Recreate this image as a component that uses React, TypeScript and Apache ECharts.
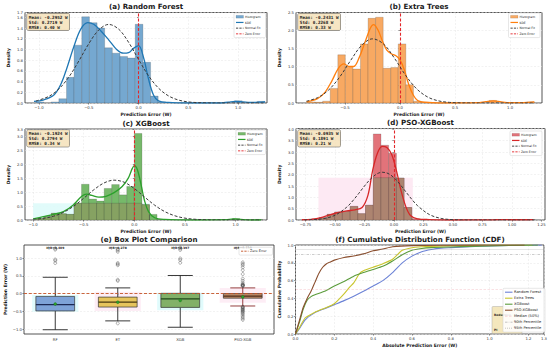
import React, { useEffect, useRef } from 'react';
import * as echarts from 'echarts';

// ---------------- (a) Random Forest ----------------
const rfBinEdges = [-1.030,-0.953,-0.877,-0.800,-0.723,-0.647,-0.570,-0.493,-0.416,-0.340,-0.263,-0.186,-0.110,-0.033,0.044,0.121,0.197,0.274,0.351,0.427,0.504,0.581,0.657,0.734,0.811,0.888,0.964,1.041,1.118,1.194,1.271];
const rfDensity = [0.02,0,0.02,0.08,0.48,1.08,1.61,1.50,1.40,1.03,0.93,0.87,0.84,1.47,0.76,0.13,0.02,0,0,0,0,0,0,0,0,0,0.04,0,0,0.03];
const rfKde = [[-1.05,0.03],[-0.95,0.06],[-0.85,0.15],[-0.78,0.35],[-0.72,0.65],[-0.65,1.05],[-0.58,1.38],[-0.51,1.50],[-0.45,1.47],[-0.38,1.35],[-0.30,1.18],[-0.22,1.00],[-0.15,0.93],[-0.10,0.94],[-0.05,1.02],[0.00,1.07],[0.05,0.85],[0.10,0.45],[0.15,0.15],[0.20,0.04],[0.30,0.01],[0.50,0.00],[0.80,0.00],[0.90,0.015],[0.97,0.03],[1.05,0.02],[1.12,0.01],[1.20,0.015],[1.27,0.02]];
const rfNormal = [[-1.03,0.038],[-0.9,0.124],[-0.8,0.262],[-0.7,0.484],[-0.6,0.783],[-0.5,1.105],[-0.4,1.362],[-0.3,1.467],[-0.2,1.380],[-0.1,1.134],[0.0,0.814],[0.1,0.510],[0.2,0.279],[0.3,0.134],[0.4,0.056],[0.5,0.020],[0.6,0.007],[0.7,0.002],[0.8,0.0],[1.27,0.0]];
const rfStats = 'Mean: -0.2952 W\nStd: 0.2719 W\nRMSE: 0.40 W';

// ---------------- (b) Extra Trees ----------------
const etBinEdges = [-0.840,-0.771,-0.703,-0.634,-0.565,-0.497,-0.428,-0.359,-0.290,-0.222,-0.153,-0.084,-0.016,0.053,0.122,0.191,0.259,0.328,0.397,0.465,0.534,0.603,0.671,0.740,0.809,0.878,0.946,1.015,1.084,1.152,1.221];
const etDensity = [0.03,0.02,0.05,0.40,1.32,1.00,0.93,1.62,2.32,2.35,0.95,0.97,1.62,0.50,0.05,0.02,0,0,0,0,0,0,0,0,0.07,0,0,0,0,0.03];
const etKde = [[-0.85,0.03],[-0.75,0.12],[-0.68,0.3],[-0.62,0.6],[-0.56,0.95],[-0.51,1.07],[-0.46,1.0],[-0.42,1.0],[-0.37,1.25],[-0.32,1.65],[-0.27,2.05],[-0.24,2.15],[-0.20,2.0],[-0.16,1.7],[-0.12,1.45],[-0.08,1.35],[-0.04,1.3],[0.0,1.18],[0.04,0.9],[0.08,0.5],[0.12,0.22],[0.16,0.07],[0.22,0.02],[0.4,0.0],[0.7,0.01],[0.78,0.04],[0.85,0.06],[0.92,0.03],[1.0,0.01],[1.12,0.01],[1.22,0.03]];
const etNormal = [[-0.85,0.049],[-0.75,0.145],[-0.65,0.352],[-0.55,0.704],[-0.45,1.160],[-0.35,1.574],[-0.25,1.758],[-0.15,1.617],[-0.05,1.225],[0.05,0.763],[0.15,0.392],[0.25,0.166],[0.35,0.058],[0.45,0.017],[0.55,0.004],[0.65,0.001],[0.8,0.0],[1.22,0.0]];
const etStats = 'Mean: -0.2431 W\nStd: 0.2268 W\nRMSE: 0.33 W';

// ---------------- (c) XGBoost ----------------
const xgbBinEdges = [-0.969,-0.894,-0.820,-0.745,-0.671,-0.596,-0.522,-0.447,-0.373,-0.298,-0.224,-0.149,-0.075,0.000,0.075,0.149,0.224,0.298,0.373,0.447,0.522,0.596,0.671,0.745,0.820,0.894,0.969,1.043,1.118,1.192,1.267];
const xgbDensity = [0.05,0.12,0.24,0.22,0.20,0.60,1.28,0.75,0.68,1.13,1.27,0.90,1.20,3.10,0.55,0.20,0.02,0,0,0,0,0,0,0,0,0,0.05,0,0,0.02];
const xgbKde = [[-1.0,0.04],[-0.9,0.12],[-0.8,0.2],[-0.7,0.3],[-0.6,0.55],[-0.52,0.85],[-0.47,0.93],[-0.42,0.88],[-0.35,0.82],[-0.28,0.85],[-0.2,0.98],[-0.12,1.2],[-0.06,1.5],[-0.02,1.85],[0.0,1.95],[0.03,1.8],[0.07,1.2],[0.1,0.7],[0.14,0.3],[0.2,0.08],[0.3,0.02],[0.6,0.0],[0.9,0.01],[0.98,0.04],[1.05,0.02],[1.15,0.0],[1.25,0.0]];
const xgbNormal = [[-1.0,0.022],[-0.9,0.058],[-0.8,0.134],[-0.7,0.274],[-0.6,0.493],[-0.5,0.779],[-0.4,1.083],[-0.3,1.326],[-0.2,1.427],[-0.1,1.352],[0.0,1.126],[0.1,0.826],[0.2,0.533],[0.3,0.302],[0.4,0.151],[0.5,0.066],[0.6,0.026],[0.7,0.009],[0.8,0.003],[1.0,0.0],[1.25,0.0]];
const xgbStats = 'Mean: -0.1924 W\nStd: 0.2794 W\nRMSE: 0.34 W';
const xgbShade = [-1.0, 0.15, 0.6];

// ---------------- (d) PSO-XGBoost ----------------
const psoBinEdges = [-0.763,-0.698,-0.632,-0.567,-0.502,-0.437,-0.371,-0.306,-0.241,-0.175,-0.110,-0.045,0.021,0.086,0.151,0.217,0.282,0.347,0.412,0.478,0.543,0.608,0.674,0.739,0.804,0.870,0.935,1.000,1.065,1.131,1.196];
const psoDensity = [0.02,0.05,0.10,0.25,0.35,0.38,0.60,0.28,0.65,3.80,3.30,2.95,1.85,0.55,0.05,0.03,0,0,0,0,0,0,0,0,0,0.02,0,0,0,0.01];
const psoKde = [[-0.78,0.01],[-0.7,0.03],[-0.62,0.1],[-0.55,0.22],[-0.48,0.32],[-0.4,0.4],[-0.33,0.45],[-0.27,0.55],[-0.22,1.1],[-0.18,2.2],[-0.14,2.95],[-0.1,3.25],[-0.06,3.2],[-0.02,2.9],[0.02,2.2],[0.06,1.3],[0.1,0.6],[0.14,0.2],[0.2,0.05],[0.3,0.02],[0.5,0.0],[0.85,0.01],[0.92,0.02],[1.0,0.01],[1.1,0.01],[1.18,0.02]];
const psoNormal = [[-0.76,0.004],[-0.7,0.012],[-0.6,0.058],[-0.5,0.209],[-0.4,0.567],[-0.35,0.841],[-0.3,1.163],[-0.25,1.498],[-0.2,1.800],[-0.15,2.018],[-0.1,2.109],[-0.05,2.055],[0.0,1.868],[0.05,1.582],[0.1,1.251],[0.15,0.921],[0.2,0.633],[0.3,0.242],[0.4,0.070],[0.5,0.015],[0.6,0.002],[0.8,0.0],[1.19,0.0]];
const psoStats = 'Mean: -0.0935 W\nStd: 0.1891 W\nRMSE: 0.21 W';
const psoShade = [-0.64, 0.16, 1.87];

// ---------------- (e) Box plot ----------------
const boxCategories = ['RF', 'ET', 'XGB', 'PSO-XGB'];
const boxLower = [-1.02, -0.77, -0.95, -0.35];
const boxQ1 = [-0.49, -0.38, -0.39, -0.13];
const boxMedian = [-0.31, -0.24, -0.15, -0.07];
const boxQ3 = [-0.08, -0.10, 0.007, 0.0];
const boxUpper = [0.46, 0.16, 0.51, 0.16];
const boxMean = [-0.2952, -0.2431, -0.1924, -0.0935];
const boxIqrLabels = ['IQR=0.409', 'IQR=0.278', 'IQR=0.397', 'IQR=0.130'];
const bandTop = [-0.04, 0.05, 0.02, 0.16];
const bandBottom = [-0.51, -0.49, -0.47, -0.26];
const rfOutliers = [0.86, 0.93, 0.96, 1.24, 1.27];
const etOutliers = [-0.84, 0.36, 0.39, 0.80, 0.83, 0.86, 1.18, 1.22, 1.25];
const xgbOutliers = [0.87, 0.95, 0.99, 1.23, 1.27, 1.30];
const psoOutliers = [0.21, 0.22, 0.23, 0.24, 0.25, 0.26, 0.30, 0.36, 0.42, 0.55, 0.66, 0.74, 0.80, 0.84, 0.88, -0.37, -0.38, -0.40, -0.42, -0.44, -0.46, -0.48, -0.50, -0.52, -0.55, -0.58, -0.62, -0.66, -0.70, -0.74];

// ---------------- (f) CDF ----------------
const cdfRF = [[0,0],[0.02,0.06],[0.05,0.16],[0.1,0.24],[0.15,0.285],[0.2,0.33],[0.25,0.375],[0.3,0.425],[0.35,0.48],[0.4,0.54],[0.45,0.60],[0.5,0.69],[0.55,0.80],[0.6,0.875],[0.65,0.925],[0.7,0.95],[0.75,0.965],[0.8,0.97],[0.9,0.98],[1.0,0.99],[1.1,0.995],[1.27,1.0]];
const cdfET = [[0,0],[0.02,0.07],[0.05,0.18],[0.1,0.245],[0.15,0.29],[0.2,0.34],[0.25,0.45],[0.28,0.53],[0.3,0.575],[0.33,0.68],[0.35,0.71],[0.4,0.75],[0.45,0.79],[0.5,0.84],[0.55,0.94],[0.6,0.97],[0.65,0.98],[0.7,0.985],[0.85,0.995],[1.0,1.0],[1.22,1.0]];
const cdfXGB = [[0,0],[0.02,0.13],[0.04,0.28],[0.06,0.38],[0.08,0.42],[0.1,0.44],[0.15,0.48],[0.2,0.54],[0.25,0.59],[0.3,0.65],[0.35,0.69],[0.4,0.725],[0.45,0.76],[0.5,0.82],[0.55,0.89],[0.6,0.94],[0.65,0.96],[0.7,0.97],[0.8,0.978],[0.9,0.985],[1.0,0.99],[1.1,0.995],[1.25,1.0]];
const cdfPSO = [[0,0],[0.02,0.15],[0.04,0.30],[0.06,0.40],[0.08,0.48],[0.1,0.58],[0.12,0.68],[0.14,0.75],[0.16,0.79],[0.18,0.81],[0.2,0.83],[0.25,0.86],[0.3,0.876],[0.35,0.90],[0.4,0.935],[0.45,0.955],[0.5,0.98],[0.6,0.993],[0.8,0.997],[1.0,1.0],[1.18,1.0]];
const cdfRefLevels = [0.5, 0.9, 0.95];

// ---------------- styling helpers ----------------
const FONT = 'DejaVu Sans';
const INK = '#1a1a1a';
const minus = (s: string) => s.replace(/-/g, '\u2212');
const fmt = (d: number) => (v: number) => minus(Number(v).toFixed(d));

const grids = [
  { left: 25, top: 12.5, width: 242, height: 90.5 },
  { left: 296, top: 12.5, width: 246, height: 90.5 },
  { left: 25, top: 129, width: 242, height: 91 },
  { left: 296, top: 128.5, width: 249, height: 91.5 },
  { left: 24, top: 245, width: 250, height: 89 },
  { left: 295.5, top: 245, width: 249.5, height: 89 },
];

const axisCommon = {
  axisLine: { show: false },
  axisTick: { show: true, length: 1.6, lineStyle: { color: '#333', width: 0.5 } },
  axisLabel: { fontSize: 3.8, color: '#333', fontFamily: FONT, margin: 2 },
  splitLine: { show: true, lineStyle: { color: '#e4e4e4', width: 0.5, type: [2, 1.5] } },
  nameLocation: 'middle',
  nameTextStyle: { fontSize: 4.5, fontWeight: 'bold', color: INK, fontFamily: FONT },
};

function valueX(gi: number, min: number, max: number, ticks: number[] | null, interval: number | null, digits: number, name: string) {
  const ax: any = {
    ...axisCommon, type: 'value', gridIndex: gi, min, max, name, nameGap: 8.5,
    axisLabel: { ...axisCommon.axisLabel, formatter: fmt(digits) },
    axisTick: { ...axisCommon.axisTick },
  };
  if (ticks) {
    ax.axisLabel.customValues = ticks;
    ax.axisTick.customValues = ticks;
  } else if (interval) {
    ax.interval = interval;
  }
  return ax;
}
function valueY(gi: number, min: number, max: number, ticks: number[] | null, interval: number | null, digits: number, name: string, gap: number) {
  const ax: any = {
    ...axisCommon, type: 'value', gridIndex: gi, min, max, name, nameGap: gap, nameRotate: 90,
    axisLabel: { ...axisCommon.axisLabel, formatter: fmt(digits) },
    axisTick: { ...axisCommon.axisTick },
  };
  if (ticks) {
    ax.axisLabel.customValues = ticks;
    ax.axisTick.customValues = ticks;
  } else if (interval) {
    ax.interval = interval;
  }
  return ax;
}

function histRows(edges: number[], heights: number[]) {
  const rows: number[][] = [];
  heights.forEach((h, i) => { if (h > 0) rows.push([edges[i], edges[i + 1], h]); });
  return rows;
}

function histSeries(gi: number, edges: number[], heights: number[], fill: string) {
  return {
    type: 'custom', name: 'Histogram ' + gi, xAxisIndex: gi, yAxisIndex: gi, z: 2, clip: true, silent: true,
    encode: { x: [0, 1], y: 2 },
    data: histRows(edges, heights),
    renderItem: (params: any, api: any) => {
      const a = api.coord([api.value(0), api.value(2)]);
      const b = api.coord([api.value(1), 0]);
      return { type: 'rect', shape: { x: a[0], y: a[1], width: b[0] - a[0], height: b[1] - a[1] },
        style: { fill, stroke: 'rgba(40,40,40,0.45)', lineWidth: 0.4 } };
    },
  };
}

function shadeSeries(gi: number, shade: number[], fill: string) {
  return {
    type: 'custom', name: 'shade ' + gi, xAxisIndex: gi, yAxisIndex: gi, z: 1, clip: true, silent: true,
    encode: { x: [0, 1], y: 2 },
    data: [shade],
    renderItem: (params: any, api: any) => {
      const a = api.coord([api.value(0), api.value(2)]);
      const b = api.coord([api.value(1), 0]);
      return { type: 'rect', shape: { x: a[0], y: a[1], width: b[0] - a[0], height: b[1] - a[1] }, style: { fill } };
    },
  };
}

function overlapSeries(gi: number, edges: number[], heights: number[], shade: number[], fill: string) {
  return {
    type: 'custom', name: 'overlap ' + gi, xAxisIndex: gi, yAxisIndex: gi, z: 2, clip: true, silent: true,
    encode: { x: [0, 1], y: 2 },
    data: histRows(edges, heights),
    renderItem: (params: any, api: any) => {
      const x0 = Math.max(api.value(0), shade[0]);
      const x1 = Math.min(api.value(1), shade[1]);
      if (x1 <= x0) return null;
      const h = Math.min(api.value(2), shade[2]);
      const a = api.coord([x0, h]);
      const b = api.coord([x1, 0]);
      return { type: 'rect', shape: { x: a[0], y: a[1], width: b[0] - a[0], height: b[1] - a[1] },
        style: { fill, stroke: 'rgba(40,40,40,0.45)', lineWidth: 0.4 } };
    },
  };
}

function lineSeries(gi: number, name: string, data: number[][], color: string, width: number, dash: any, z = 4, smooth: any = 0.35) {
  return {
    type: 'line', name, xAxisIndex: gi, yAxisIndex: gi, data, symbol: 'none', showSymbol: false, smooth,
    lineStyle: { color, width, type: dash }, itemStyle: { color }, z, clip: true, silent: true,
  };
}

function zeroMark(color: string) {
  return { symbol: 'none', silent: true, label: { show: false }, data: [{ xAxis: 0 }],
    lineStyle: { color, width: 1.1, type: [3, 1.8] } };
}

function legendGroup(x: number, y: number, w: number, rowH: number, fontSize: number, items: any[]) {
  const pad = 0.9;
  const children: any[] = [{
    type: 'rect', z: 100, shape: { x, y, width: w, height: pad * 2 + rowH * items.length, r: 1.2 },
    style: { fill: 'rgba(255,255,255,0.88)', stroke: '#cfcfcf', lineWidth: 0.5 },
  }];
  items.forEach((it, i) => {
    const cy = y + pad + rowH * (i + 0.5);
    if (it.kind === 'rect') {
      children.push({ type: 'rect', z: 101, shape: { x: x + 2, y: cy - 1.4, width: 7.5, height: 2.8 }, style: { fill: it.color, stroke: 'rgba(40,40,40,0.4)', lineWidth: 0.3 } });
    } else {
      children.push({ type: 'line', z: 101, shape: { x1: x + 2, y1: cy, x2: x + 9.5, y2: cy }, style: { stroke: it.color, lineWidth: it.width || 1, lineDash: it.dash || null } });
    }
    children.push({ type: 'text', z: 101, style: { x: x + 11, y: cy, text: it.label, font: fontSize + 'px ' + FONT, fill: INK, align: 'left', verticalAlign: 'middle', textAlign: 'left', textVerticalAlign: 'middle' } });
  });
  return { type: 'group', children };
}

function statsBox(x: number, y: number, text: string) {
  return { type: 'text', z: 90, style: {
    x, y, text, font: 'bold 4.3px "DejaVu Sans Mono"', fill: INK, lineHeight: 5,
    backgroundColor: 'rgba(245,225,185,0.85)', borderColor: '#666', borderWidth: 0.5, borderRadius: 1.2, padding: [1.2, 1.8, 0.6, 1.8],
  } };
}

function title(x: number, y: number, text: string) {
  return { type: 'text', z: 90, style: { x, y, text, font: 'bold 7.1px ' + FONT, fill: INK, align: 'center', verticalAlign: 'middle', textAlign: 'center', textVerticalAlign: 'middle' } };
}

const histLegend = (fill: string, kde: string) => [
  { kind: 'rect', color: fill, label: 'Histogram' },
  { kind: 'line', color: kde, width: 1.2, label: 'KDE' },
  { kind: 'line', color: '#333', width: 0.9, dash: [2.2, 1.2], label: 'Normal Fit' },
  { kind: 'line', color: '#e3262a', width: 0.9, dash: [2.2, 1.2], label: 'Zero Error' },
];

const C_RF = '#1f77b4', C_ET = '#ff7f0e', C_XGB = '#2ca02c', C_PSO = '#d62728';
const F_RF = '#75a8d0', F_ET = '#f8a962', F_XGB = '#76b96a', F_PSO = '#e2737a';
const NORM = '#3a3a3a', ZERO = '#e3262a';
const boxFill = ['#7ea3d8', '#e6c45c', '#82b168', '#c38c68'];
const boxMedColor = ['#1c2a55', '#4a3a10', '#1f4a1a', '#4a2a18'];
const boxWhisker = ['#222', '#222', '#222', '#8a2a2a'];
const bandFill = ['rgba(205,248,250,0.6)', 'rgba(252,225,238,0.6)', 'rgba(205,248,250,0.6)', 'rgba(252,225,238,0.6)'];
const CDF_C = ['#6b82d6', '#c9c62e', '#5c9c3c', '#8a4e2e'];

function buildOption() {
  const series: any[] = [];
  // (a)
  series.push(histSeries(0, rfBinEdges, rfDensity, F_RF));
  series.push({ ...lineSeries(0, 'KDE a', rfKde, C_RF, 1.3, 'solid'), markLine: zeroMark(ZERO) });
  series.push(lineSeries(0, 'Normal a', rfNormal, NORM, 1.0, [3, 1.8], 5));
  // (b)
  series.push(histSeries(1, etBinEdges, etDensity, F_ET));
  series.push({ ...lineSeries(1, 'KDE b', etKde, C_ET, 1.3, 'solid'), markLine: zeroMark(ZERO) });
  series.push(lineSeries(1, 'Normal b', etNormal, NORM, 1.0, [3, 1.8], 5));
  // (c)
  series.push(shadeSeries(2, xgbShade, 'rgba(222,251,250,0.9)'));
  series.push(histSeries(2, xgbBinEdges, xgbDensity, F_XGB));
  series.push(overlapSeries(2, xgbBinEdges, xgbDensity, xgbShade, '#86a262'));
  series.push({ ...lineSeries(2, 'KDE c', xgbKde, C_XGB, 1.3, 'solid'), markLine: zeroMark(ZERO) });
  series.push(lineSeries(2, 'Normal c', xgbNormal, NORM, 1.0, [3, 1.8], 5));
  // (d)
  series.push(shadeSeries(3, psoShade, 'rgba(253,232,242,0.95)'));
  series.push(histSeries(3, psoBinEdges, psoDensity, F_PSO));
  series.push(overlapSeries(3, psoBinEdges, psoDensity, psoShade, '#ad8470'));
  series.push({ ...lineSeries(3, 'KDE d', psoKde, C_PSO, 1.3, 'solid'), markLine: zeroMark(ZERO) });
  series.push(lineSeries(3, 'Normal d', psoNormal, NORM, 1.0, [3, 1.8], 5));

  // (e) boxes
  series.push({
    type: 'custom', name: 'bands', xAxisIndex: 4, yAxisIndex: 4, z: 1, silent: true,
    encode: { x: 0, y: [1, 2] },
    data: boxCategories.map((_, i) => [i, bandBottom[i], bandTop[i]]),
    renderItem: (params: any, api: any) => {
      const bw = api.size([1, 0])[0];
      const a = api.coord([api.value(0), api.value(2)]);
      const b = api.coord([api.value(0), api.value(1)]);
      return { type: 'rect', shape: { x: a[0] - bw * 0.37, y: a[1], width: bw * 0.74, height: b[1] - a[1] }, style: { fill: bandFill[params.dataIndex] } };
    },
  });
  series.push({
    type: 'custom', name: 'boxes', xAxisIndex: 4, yAxisIndex: 4, z: 3, silent: true,
    encode: { x: 0, y: [1, 2, 3, 4, 5] },
    data: boxCategories.map((_, i) => [i, boxLower[i], boxQ1[i], boxMedian[i], boxQ3[i], boxUpper[i], boxMean[i]]),
    renderItem: (params: any, api: any) => {
      const i = params.dataIndex;
      const bw = api.size([1, 0])[0];
      const hw = bw * 0.31, cw = bw * 0.2;
      const c = api.value(0);
      const pLow = api.coord([c, api.value(1)]);
      const cx = pLow[0];
      const yLow = pLow[1];
      const yQ1 = api.coord([c, api.value(2)])[1];
      const yMed = api.coord([c, api.value(3)])[1];
      const yQ3 = api.coord([c, api.value(4)])[1];
      const yUp = api.coord([c, api.value(5)])[1];
      const yMean = api.coord([c, api.value(6)])[1];
      const ws = { stroke: boxWhisker[i], lineWidth: 0.9 };
      return { type: 'group', children: [
        { type: 'line', shape: { x1: cx, y1: yQ3, x2: cx, y2: yUp }, style: ws },
        { type: 'line', shape: { x1: cx, y1: yQ1, x2: cx, y2: yLow }, style: ws },
        { type: 'line', shape: { x1: cx - cw, y1: yUp, x2: cx + cw, y2: yUp }, style: ws },
        { type: 'line', shape: { x1: cx - cw, y1: yLow, x2: cx + cw, y2: yLow }, style: ws },
        { type: 'rect', shape: { x: cx - hw, y: yQ3, width: hw * 2, height: yQ1 - yQ3 }, style: { fill: boxFill[i], stroke: '#333', lineWidth: 0.7 } },
        { type: 'line', shape: { x1: cx - hw, y1: yMed, x2: cx + hw, y2: yMed }, style: { stroke: boxMedColor[i], lineWidth: 1.3 } },
        { type: 'circle', shape: { cx, cy: yMean, r: 1.5 }, style: { fill: '#2ca02c', stroke: '#1c5c1c', lineWidth: 0.3 } },
      ] };
    },
  });
  const outData: number[][] = [];
  [rfOutliers, etOutliers, xgbOutliers, psoOutliers].forEach((arr, i) => arr.forEach((v) => outData.push([i, v])));
  series.push({
    type: 'scatter', name: 'outliers', xAxisIndex: 4, yAxisIndex: 4, z: 4, silent: true,
    symbol: 'circle', symbolSize: 3, data: outData,
    itemStyle: { color: 'rgba(255,255,255,0)', borderColor: '#444', borderWidth: 0.5 },
    markLine: { symbol: 'none', silent: true, label: { show: false }, data: [{ yAxis: 0 }],
      lineStyle: { color: 'rgba(196,84,40,0.9)', width: 1.1, type: [3, 1.8] } },
  });
  series.push({
    type: 'custom', name: 'iqr', xAxisIndex: 4, yAxisIndex: 4, z: 5, silent: true,
    encode: { x: 0, y: 1 },
    data: boxCategories.map((_, i) => [i, 1.29]),
    renderItem: (params: any, api: any) => {
      const p = api.coord([api.value(0), api.value(1)]);
      return { type: 'text', style: { x: p[0], y: p[1], text: boxIqrLabels[params.dataIndex], font: 'bold 3px ' + FONT, fill: INK, align: 'center', verticalAlign: 'middle', textAlign: 'center', textVerticalAlign: 'middle' } };
    },
  });

  // (f) CDF
  [cdfRF, cdfET, cdfXGB, cdfPSO].forEach((d, i) => {
    series.push(lineSeries(5, 'cdf' + i, d, CDF_C[i], 1.1, 'solid', 4, 0.2));
  });
  series[series.length - 1].markLine = {
    symbol: 'none', silent: true, label: { show: false },
    data: [
      { yAxis: cdfRefLevels[0], lineStyle: { color: 'rgba(240,160,170,0.45)', width: 0.7, type: [2.5, 1.5] } },
      { yAxis: cdfRefLevels[1], lineStyle: { color: 'rgba(150,150,150,0.8)', width: 0.6, type: [2.5, 1.2, 0.6, 1.2] } },
      { yAxis: cdfRefLevels[2], lineStyle: { color: 'rgba(150,150,150,0.8)', width: 0.6, type: [1, 1] } },
    ],
  };

  const xAxis = [
    valueX(0, -1.14, 1.29, [-1, -0.5, 0, 0.5, 1], null, 1, 'Prediction Error (W)'),
    valueX(1, -0.945, 1.29, [-0.5, 0, 0.5, 1], null, 1, 'Prediction Error (W)'),
    valueX(2, -1.08, 1.31, [-1, -0.5, 0, 0.5, 1], null, 1, 'Prediction Error (W)'),
    valueX(3, -0.83, 1.28, [-0.75, -0.5, -0.25, 0, 0.25, 0.5, 0.75, 1, 1.25], null, 2, 'Prediction Error (W)'),
    { ...axisCommon, type: 'category', gridIndex: 4, data: boxCategories, boundaryGap: true,
      axisTick: { show: true, alignWithLabel: true, length: 1.6, lineStyle: { color: '#333', width: 0.5 } },
      axisLabel: { ...axisCommon.axisLabel, margin: 3 }, splitLine: { show: false } },
    valueX(5, 0, 1.28, null, 0.2, 1, 'Absolute Prediction Error (W)'),
  ];
  const yAxis = [
    valueY(0, 0, 1.69, null, 0.2, 1, 'Density', 14),
    valueY(1, 0, 2.48, null, 0.5, 1, 'Density', 14),
    valueY(2, 0, 3.26, null, 0.5, 1, 'Density', 14),
    valueY(3, 0, 4.04, null, 0.5, 1, 'Density', 14),
    valueY(4, -1.14, 1.37, [-1, -0.5, 0, 0.5, 1], null, 1, 'Prediction Error (W)', 16),
    valueY(5, 0, 1.0, null, 0.2, 1, 'Cumulative Probability', 14),
  ];

  const graphic: any[] = [
    title(146, 6, '(a) Random Forest'),
    title(419, 6, '(b) Extra Trees'),
    title(146, 123, '(c) XGBoost'),
    title(420.5, 122.5, '(d) PSO-XGBoost'),
    title(149, 239.5, '(e) Box Plot Comparison'),
    title(420, 239.5, '(f) Cumulative Distribution Function (CDF)'),
    statsBox(27, 13.5, rfStats),
    statsBox(298, 13.5, etStats),
    statsBox(27, 130, xgbStats),
    statsBox(298, 130, psoStats),
    legendGroup(234, 13, 31.5, 5.7, 3, histLegend(F_RF, C_RF)),
    legendGroup(508.5, 13, 31.5, 5.7, 3, histLegend(F_ET, C_ET)),
    legendGroup(236, 130, 29.5, 5.7, 3, histLegend(F_XGB, C_XGB)),
    legendGroup(510, 131, 32, 5.7, 3, histLegend(F_PSO, C_PSO)),
    legendGroup(239, 247.3, 33.5, 6, 3.3, [
      { kind: 'line', color: 'rgba(196,84,40,0.9)', width: 1, dash: [2.2, 1.2], label: 'Zero Error' },
    ]),
    { type: 'group', children: [
      { type: 'rect', z: 80, shape: { x: 492, y: 306.5, width: 30, height: 27, r: 1 }, style: { fill: 'rgba(243,230,185,0.95)', stroke: '#999', lineWidth: 0.4 } },
      { type: 'text', z: 81, style: { x: 494, y: 314.5, text: 'Reduction', font: 'bold 3px ' + FONT, fill: INK, verticalAlign: 'middle', textVerticalAlign: 'middle' } },
      { type: 'text', z: 81, style: { x: 494, y: 329.5, text: 'PI', font: 'bold 3px ' + FONT, fill: INK, verticalAlign: 'middle', textVerticalAlign: 'middle' } },
    ] },
    legendGroup(503, 288.3, 42, 6, 3.6, [
      { kind: 'line', color: CDF_C[0], width: 1.1, label: 'Random Forest' },
      { kind: 'line', color: CDF_C[1], width: 1.1, label: 'Extra Trees' },
      { kind: 'line', color: CDF_C[2], width: 1.1, label: 'XGBoost' },
      { kind: 'line', color: CDF_C[3], width: 1.1, label: 'PSO-XGBoost' },
      { kind: 'line', color: 'rgba(240,160,170,0.6)', width: 0.8, dash: [2.5, 1.5], label: 'Median (50%)' },
      { kind: 'line', color: 'rgba(150,150,150,0.8)', width: 0.7, dash: [2.5, 1.2, 0.6, 1.2], label: '90th Percentile' },
      { kind: 'line', color: 'rgba(150,150,150,0.8)', width: 0.7, dash: [1, 1], label: '95th Percentile' },
    ]),
  ];

  return {
    animation: false,
    backgroundColor: '#ffffff',
    textStyle: { fontFamily: FONT },
    grid: grids.map((g) => ({ ...g, show: true, borderColor: '#2a2a2a', borderWidth: 0.8, backgroundColor: 'transparent' })),
    xAxis,
    yAxis,
    series,
    graphic,
  };
}

export default function App() {
  const ref = useRef<HTMLDivElement>(null);
  useEffect(() => {
    document.body.style.margin = '0';
    if (!ref.current) return;
    const chart = echarts.init(ref.current, null, { renderer: 'svg' });
    chart.setOption(buildOption() as any);
    return () => chart.dispose();
  }, []);
  return <div ref={ref} style={{ width: 550, height: 352 }} />;
}
